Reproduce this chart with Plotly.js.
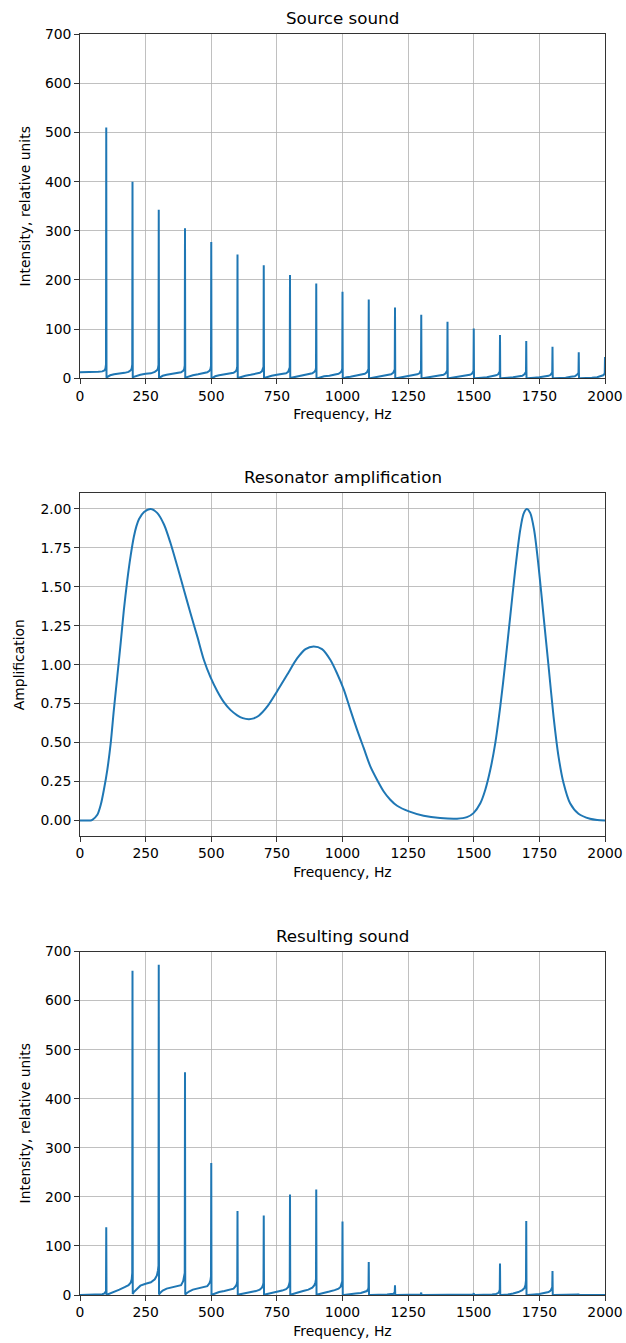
<!DOCTYPE html>
<html>
<head>
<meta charset="utf-8">
<script src="https://cdn.plot.ly/plotly-3.0.1.min.js"></script>
<style>html,body{margin:0;padding:0;background:#fff;}#chart{width:626px;height:1343px;}</style>
</head>
<body>
<div id="chart"></div>
<script>
// ---------- data ----------
const harmonics = [100,200,300,400,500,600,700,800,900,1000,1100,1200,1300,1400,1500,1600,1700,1800,1900,2000];
// sample positions inside each segment (Hz after the previous harmonic)
const segOffsets = [1,5,15,30,50,70,85,93,97,99];

// Source sound
const sourceStart = 12;
const sourcePeaks = [510,400,343,305,277,252,230,210,193,176,160,144,129,115,101,88,76,64,53,43];
const sourceSegments = [
  [12,12,12,12,12,13,14,16,20,28],
  [1,3,6,8,9,11,13,16,20,28],
  [1,3,5,7,9,10,13,16,20,27],
  [0,2,5,7,9,10,12,15,19,26],
  [0,2,4,6,8,10,12,15,19,25],
  [0,1,4,6,8,9,11,14,18,24],
  [0,1,3,5,7,9,11,14,18,23],
  [0,1,3,5,7,8,10,13,17,22],
  [0,1,2,4,6,8,10,13,16,21],
  [0,0,2,4,5,7,9,12,15,20],
  [0,0,2,3,5,7,9,12,15,19],
  [0,0,1,3,4,6,8,11,14,18],
  [0,0,1,2,4,6,8,10,13,17],
  [0,0,1,2,3,5,7,10,13,16],
  [0,0,1,2,3,5,7,9,12,15],
  [0,0,0,1,2,4,6,8,11,14],
  [0,0,0,1,2,4,5,8,10,13],
  [0,0,0,1,2,3,5,7,10,12],
  [0,0,0,1,1,3,4,7,9,11],
  [0,0,0,0,1,2,4,6,8,10]
];

// Resonator amplification
const ampFreq = [0,20,40,47,66,79,91,104,117,129,142,155,167,180,193,205,215,225,244,269,294,320,345,371,396,421,447,472,497,523,548,573,599,620,643,662,681,713,751,789,827,859,890,922,954,979,1005,1030,1056,1081,1106,1132,1157,1182,1208,1253,1309,1372,1436,1474,1499,1525,1544,1563,1582,1601,1620,1639,1658,1677,1690,1702,1715,1730,1747,1766,1785,1804,1823,1842,1867,1899,1943,1970,2000];
const ampValue = [0,0,0,0.004,0.036,0.10,0.197,0.325,0.496,0.71,0.924,1.14,1.35,1.54,1.70,1.82,1.89,1.935,1.98,2.0,1.975,1.9,1.78,1.63,1.48,1.33,1.18,1.03,0.92,0.83,0.76,0.71,0.675,0.657,0.65,0.655,0.672,0.73,0.83,0.935,1.04,1.10,1.117,1.10,1.03,0.945,0.84,0.71,0.58,0.464,0.347,0.26,0.186,0.133,0.094,0.058,0.03,0.015,0.011,0.021,0.047,0.11,0.197,0.325,0.496,0.73,1.01,1.31,1.61,1.865,1.97,2.0,1.975,1.865,1.63,1.31,0.99,0.667,0.41,0.24,0.11,0.043,0.011,0.003,0];

// Resulting sound
const resultStart = 0;
const resultPeaks = [138,661,673,454,269,171,162,205,215,150,67,20,5,1,4,64,151,49,2,0];
const resultSegments = [
  [0,0,0,0,0,0.5,1.5,3,5,8],
  [0,1,3,6,11,16,20,25,32,45],
  [2,6,12,19,23,26,32,40,50,60],
  [1,4,9,13,15,17,20,28,36,45],
  [1,3,7,11,13,15,18,24,30,38],
  [0,1,3,6,8,10,13,18,22,28],
  [0,1,2,4,6,8,11,15,20,25],
  [0,1,2,4,6,9,12,16,22,28],
  [0,1,3,5,8,11,15,20,26,32],
  [0,1,2,4,7,10,13,17,22,28],
  [0,0,1,2,3,4,6,8,12,15],
  [0,0,0,1,1,1,2,2,4,6],
  [0,0,0,0,0,0,0.5,1,1,2],
  [0,0,0,0,0,0,0,0,0,0.5],
  [0,0,0,0,0,0,0,0,0.5,1],
  [0,0,0,0,0,1,2,4,7,11],
  [0,0,0,1,3,6,10,14,20,30],
  [0,0,0,1,2,4,6,9,12,16],
  [0,0,0,0,0,0,0,0,0.5,1],
  [0,0,0,0,0,0,0,0,0,0]
];

// ---------- build traces ----------
function buildSpectrum(start, segments, peaks) {
  const x = [0], y = [start];
  for (let k = 0; k < harmonics.length; k++) {
    const base = k === 0 ? 0 : harmonics[k - 1];
    for (let j = 0; j < segOffsets.length; j++) {
      x.push(base + segOffsets[j]);
      y.push(segments[k][j]);
    }
    x.push(harmonics[k]);
    y.push(peaks[k]);
  }
  return {x, y};
}
const src = buildSpectrum(sourceStart, sourceSegments, sourcePeaks);
const res = buildSpectrum(resultStart, resultSegments, resultPeaks);

const blue = '#1f77b4';
const traces = [
  {x: src.x, y: src.y, xaxis: 'x', yaxis: 'y', mode: 'lines', line: {color: blue, width: 2}, hoverinfo: 'skip'},
  {x: ampFreq, y: ampValue, xaxis: 'x2', yaxis: 'y2', mode: 'lines', line: {color: blue, width: 2, shape: 'spline', smoothing: 0.8}, hoverinfo: 'skip'},
  {x: res.x, y: res.y, xaxis: 'x3', yaxis: 'y3', mode: 'lines', line: {color: blue, width: 2}, hoverinfo: 'skip'}
];

const FONT = 'DejaVu Sans, Liberation Sans, sans-serif';
const common = {
  showgrid: true, gridcolor: '#b0b0b0', gridwidth: 0.8,
  showline: true, mirror: true, linecolor: '#000', linewidth: 0.8,
  ticks: 'outside', ticklen: 5, tickwidth: 0.8, tickcolor: '#000',
  zeroline: false, automargin: false,
  tickfont: {family: FONT, size: 13.9, color: '#000'}
};
function xax(anchor) {
  return Object.assign({}, common, {
    anchor: anchor, domain: [0, 1], range: [0, 2000], tick0: 0, dtick: 250,
    title: {text: 'Frequency, Hz', font: {family: FONT, size: 13.9, color: '#000'}, standoff: 6}
  });
}
function yax(anchor, dom, range, dtick, fmt, title, standoff) {
  return Object.assign({}, common, {
    anchor: anchor, domain: dom, range: range, tick0: 0, dtick: dtick, tickformat: fmt,
    title: {text: title, font: {family: FONT, size: 13.9, color: '#000'}, standoff: standoff}
  });
}
const d1 = [0.7270, 0.9998], d2 = [0.3640, 0.6357], d3 = [0, 0.2724];
const layout = {
  width: 626, height: 1343,
  margin: {l: 80, r: 20.5, t: 34, b: 48, pad: 0},
  paper_bgcolor: '#fff', plot_bgcolor: '#fff',
  showlegend: false,
  font: {family: FONT, color: '#000'},
  xaxis: xax('y'), yaxis: yax('x', d1, [0, 700], 100, '', 'Intensity, relative units', 10),
  xaxis2: xax('y2'), yaxis2: yax('x2', d2, [-0.1, 2.1], 0.25, '.2f', 'Amplification', 12),
  xaxis3: xax('y3'), yaxis3: yax('x3', d3, [0, 700], 100, '', 'Intensity, relative units', 10),
  annotations: [
    {text: 'Source sound', x: 0.5, y: d1[1], xref: 'paper', yref: 'paper', xanchor: 'center', yanchor: 'bottom', yshift: 4, showarrow: false, font: {family: FONT, size: 16.7, color: '#000'}},
    {text: 'Resonator amplification', x: 0.5, y: d2[1], xref: 'paper', yref: 'paper', xanchor: 'center', yanchor: 'bottom', yshift: 4, showarrow: false, font: {family: FONT, size: 16.7, color: '#000'}},
    {text: 'Resulting sound', x: 0.5, y: d3[1], xref: 'paper', yref: 'paper', xanchor: 'center', yanchor: 'bottom', yshift: 4, showarrow: false, font: {family: FONT, size: 16.7, color: '#000'}}
  ]
};
Plotly.newPlot('chart', traces, layout, {displayModeBar: false, staticPlot: true});
</script>
</body>
</html>
